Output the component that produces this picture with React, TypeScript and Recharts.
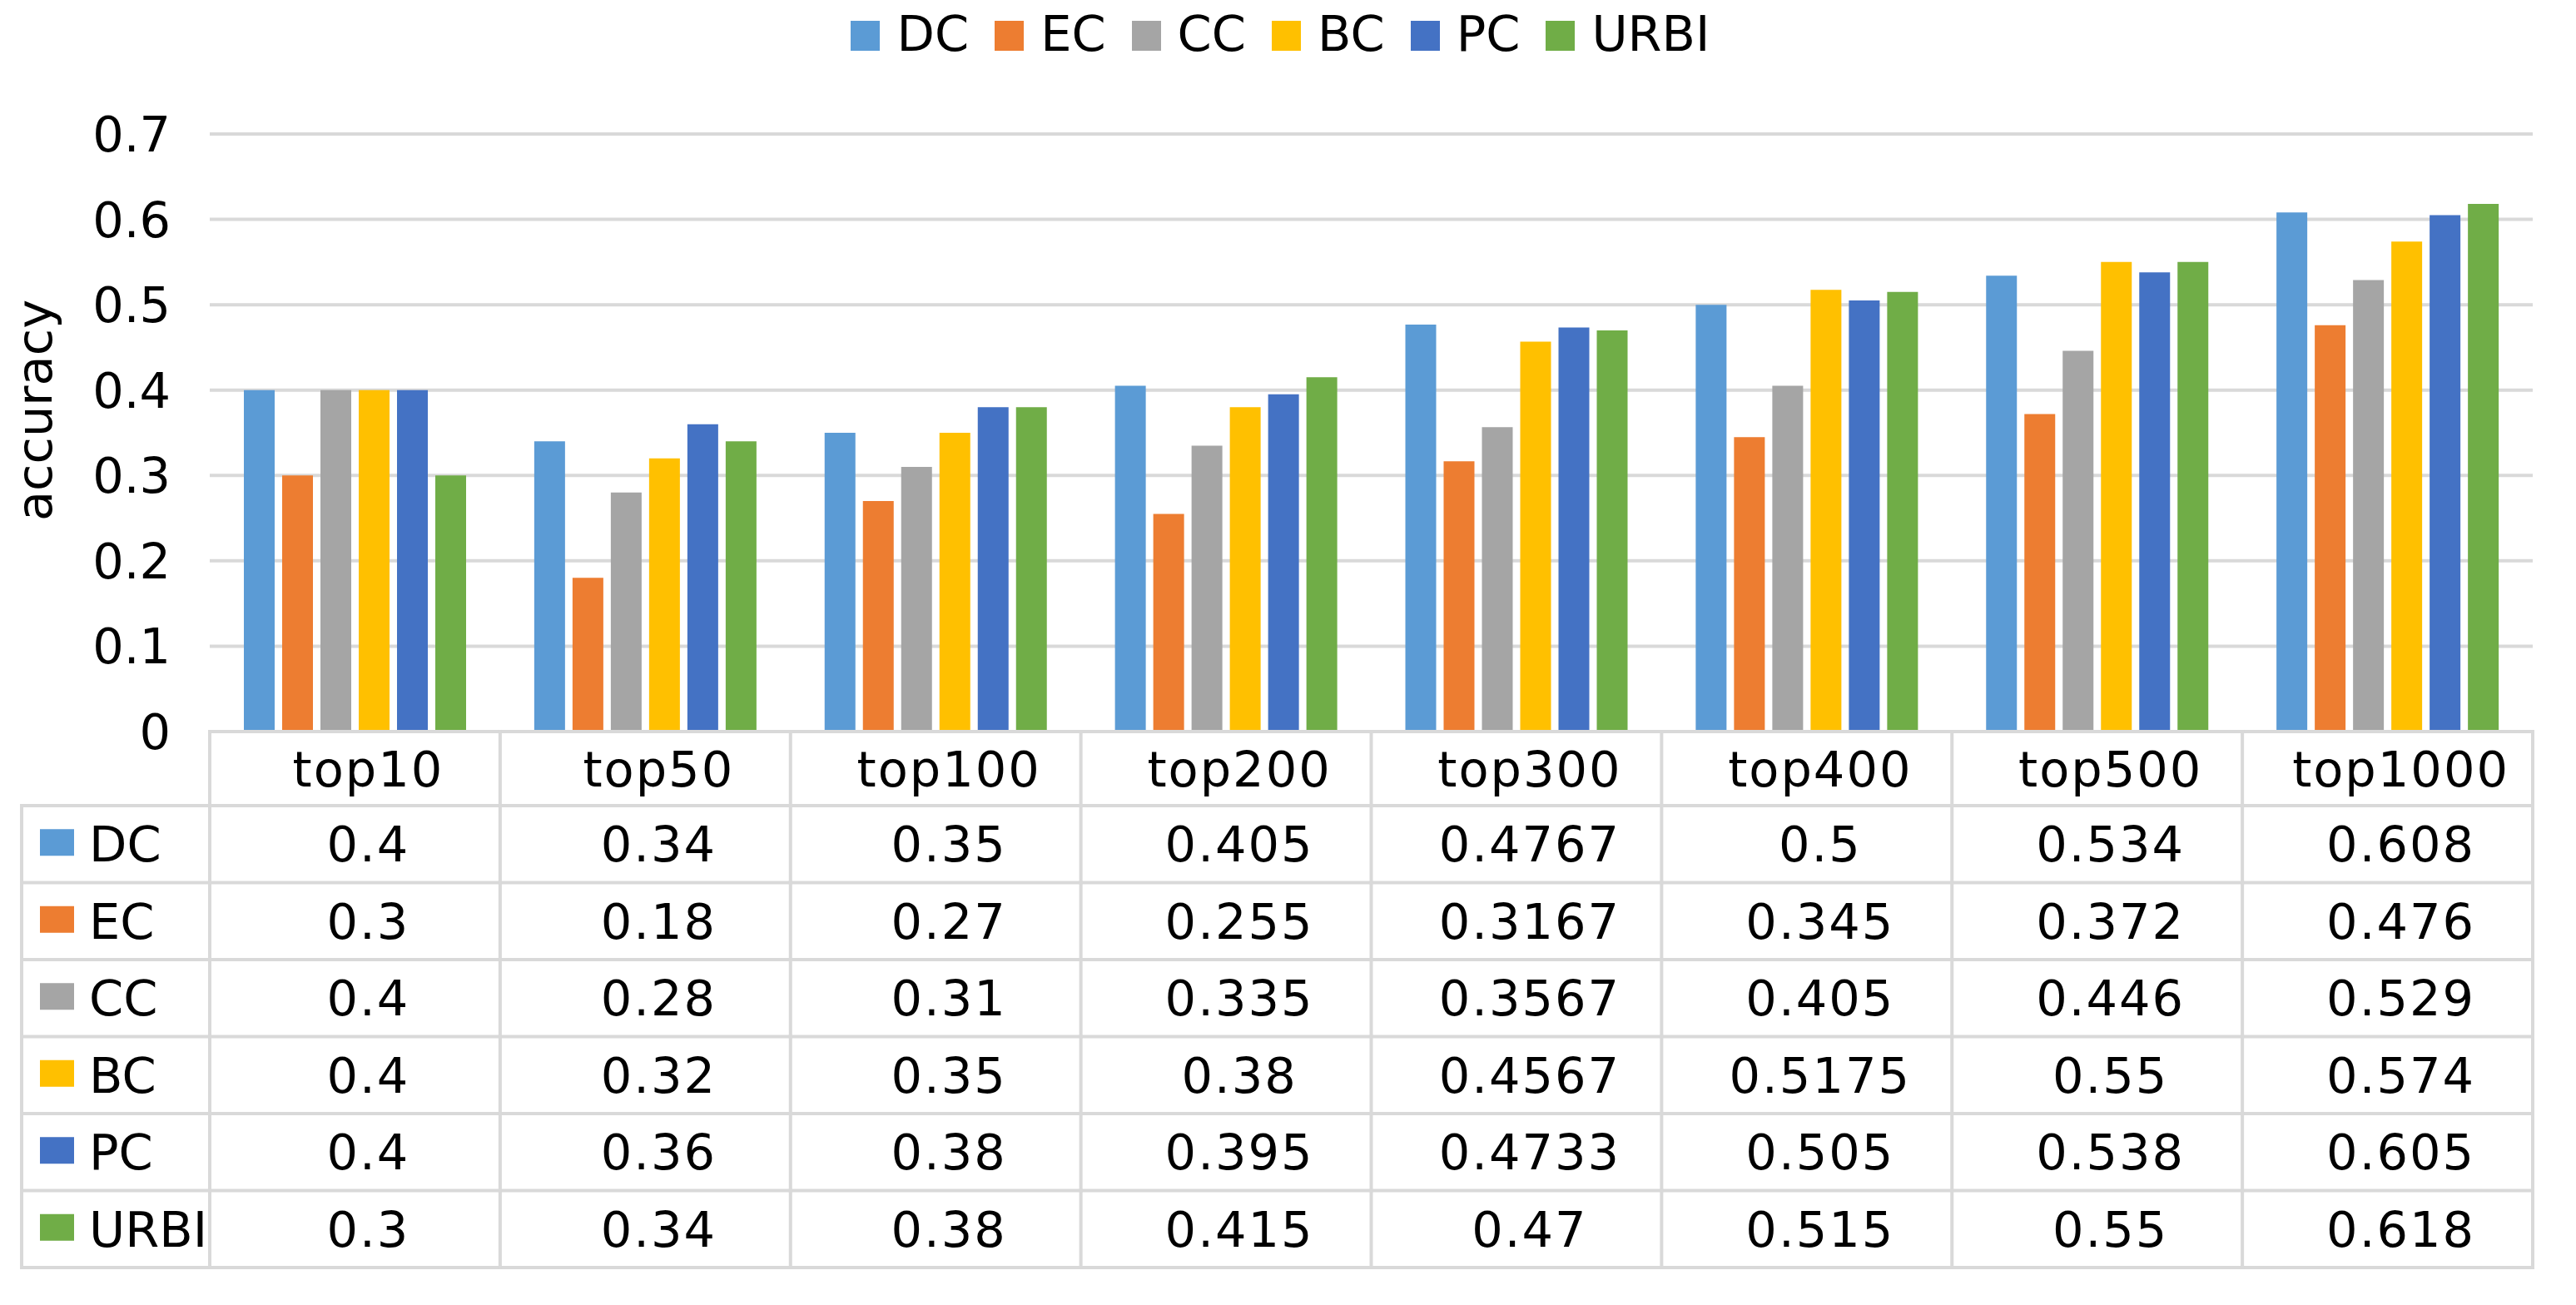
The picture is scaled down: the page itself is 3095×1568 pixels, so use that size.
import React from 'react';
import { BarChart, Bar, XAxis, YAxis, CartesianGrid } from 'recharts';

const categories = ['top10', 'top50', 'top100', 'top200', 'top300', 'top400', 'top500', 'top1000'];

const dcValues = [0.4, 0.34, 0.35, 0.405, 0.4767, 0.5, 0.534, 0.608];
const ecValues = [0.3, 0.18, 0.27, 0.255, 0.3167, 0.345, 0.372, 0.476];
const ccValues = [0.4, 0.28, 0.31, 0.335, 0.3567, 0.405, 0.446, 0.529];
const bcValues = [0.4, 0.32, 0.35, 0.38, 0.4567, 0.5175, 0.55, 0.574];
const pcValues = [0.4, 0.36, 0.38, 0.395, 0.4733, 0.505, 0.538, 0.605];
const urbiValues = [0.3, 0.34, 0.38, 0.415, 0.47, 0.515, 0.55, 0.618];

const seriesNames = ['DC', 'EC', 'CC', 'BC', 'PC', 'URBI'];
const seriesColors = ['#5B9BD5', '#ED7D31', '#A5A5A5', '#FFC000', '#4472C4', '#70AD47'];
const seriesValues = [dcValues, ecValues, ccValues, bcValues, pcValues, urbiValues];

const yTicks = [0, 0.1, 0.2, 0.3, 0.4, 0.5, 0.6, 0.7];

const data = categories.map((name, i) => {
  const row: Record<string, string | number> = { name };
  seriesNames.forEach((s, j) => {
    row[s] = seriesValues[j][i];
  });
  return row;
});

const FONT = '"DejaVu Sans", Verdana, sans-serif';
const GRID = '#D9D9D9';
const W = 3095;
const H = 1568;
const PLOT_LEFT = 252;
const PLOT_RIGHT = 3043;
const PLOT_TOP = 161;
const PLOT_BOTTOM = 879;
const HEADER_H = 89;
const ROW_H = 92.5;
const TABLE_LEFT = 26;
const FS = 59;

// x-axis ticks draw the data table column by column under each category
const TableTick = (props: any) => {
  const { x, y, payload } = props;
  const idx = categories.indexOf(payload.value);
  const colW = (PLOT_RIGHT - PLOT_LEFT) / categories.length;
  const left = x - colW / 2;
  const right = x + colW / 2;
  const rowTop = (k: number) => y + HEADER_H + k * ROW_H;
  const bottom = rowTop(seriesNames.length);
  const lineProps = { stroke: GRID, strokeWidth: 4, strokeLinecap: 'square' as const };
  const textProps = { fontFamily: FONT, fontSize: FS, fill: '#000' };
  const cellText = { ...textProps, letterSpacing: 2 };

  return (
    <g>
      <text x={x + 16} y={y + HEADER_H / 2 + 21} textAnchor="middle" {...cellText}>
        {payload.value}
      </text>
      {seriesNames.map((s, j) => (
        <text key={s} x={x + 16} y={rowTop(j) + ROW_H / 2 + 21} textAnchor="middle" {...cellText}>
          {String(seriesValues[j][idx])}
        </text>
      ))}
      {seriesNames.concat(['end']).map((s, k) => (
        <line key={'h' + k} x1={left} x2={right} y1={rowTop(k)} y2={rowTop(k)} {...lineProps} />
      ))}
      <line x1={left} x2={left} y1={y} y2={bottom} {...lineProps} />
      {idx === categories.length - 1 && <line x1={right} x2={right} y1={y} y2={bottom} {...lineProps} />}
      {idx === 0 && (
        <g>
          {seriesNames.concat(['end']).map((s, k) => (
            <line key={'lh' + k} x1={TABLE_LEFT} x2={left} y1={rowTop(k)} y2={rowTop(k)} {...lineProps} />
          ))}
          <line x1={TABLE_LEFT} x2={TABLE_LEFT} y1={rowTop(0)} y2={bottom} {...lineProps} />
          {seriesNames.map((s, j) => (
            <g key={'lg' + s}>
              <rect x={48} y={rowTop(j) + ROW_H / 2 - 18} width={41} height={32} fill={seriesColors[j]} />
              <text x={107} y={rowTop(j) + ROW_H / 2 + 21} textAnchor="start" {...textProps}>
                {s}
              </text>
            </g>
          ))}
        </g>
      )}
    </g>
  );
};

const YLabel = () => (
  <text
    x={62}
    y={493}
    transform="rotate(-90, 62, 493)"
    textAnchor="middle"
    fontFamily={FONT}
    fontSize={FS}
    fill="#000"
  >
    accuracy
  </text>
);

const TopLegend = () => (
  <div
    style={{
      position: 'absolute',
      top: 11,
      left: -9,
      width: W,
      textAlign: 'center',
      fontFamily: FONT,
      fontSize: FS,
      lineHeight: FS + 'px',
      color: '#000',
      whiteSpace: 'nowrap',
    }}
  >
    {seriesNames.map((s, j) => (
      <span key={s} style={{ marginRight: j < seriesNames.length - 1 ? 31 : 0 }}>
        <span
          style={{
            display: 'inline-block',
            width: 35,
            height: 36,
            background: seriesColors[j],
            marginRight: 20,
          }}
        />
        {s}
      </span>
    ))}
  </div>
);

export default function App() {
  return (
    <div style={{ position: 'absolute', left: 0, top: 0, width: W, height: H, background: '#fff' }}>
      <TopLegend />
      <BarChart
        width={W}
        height={H}
        data={data}
        margin={{ top: PLOT_TOP, right: W - PLOT_RIGHT, bottom: 39, left: 0 }}
        barCategoryGap={41}
        barGap={9}
      >
        <CartesianGrid vertical={false} stroke={GRID} strokeWidth={4} />
        <XAxis
          dataKey="name"
          interval={0}
          tickLine={false}
          tickSize={0}
          tickMargin={0}
          height={H - 39 - PLOT_BOTTOM}
          axisLine={{ stroke: GRID, strokeWidth: 4 }}
          tick={<TableTick />}
        />
        <YAxis
          width={PLOT_LEFT}
          domain={[0, 0.7]}
          ticks={yTicks}
          axisLine={false}
          tickLine={false}
          tickSize={0}
          tickMargin={47}
          tickFormatter={(v: number) => String(+v.toFixed(1))}
          tick={{ fontFamily: FONT, fontSize: FS, fill: '#000' }}
          label={<YLabel />}
        />
        {seriesNames.map((s, j) => (
          <Bar key={s} dataKey={s} fill={seriesColors[j]} isAnimationActive={false} />
        ))}
      </BarChart>
    </div>
  );
}
